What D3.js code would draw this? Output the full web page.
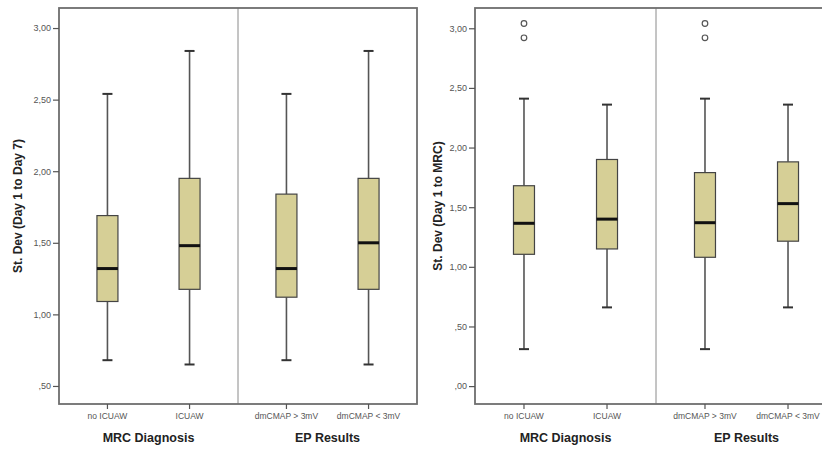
<!DOCTYPE html>
<html>
<head>
<meta charset="utf-8">
<script src="https://cdn.jsdelivr.net/npm/d3@7"></script>
<style>
  body { margin: 0; background: #fff; }
  svg { display: block; font-family: "Liberation Sans", Arial, sans-serif; }
  .tick text { fill: #555; }
</style>
</head>
<body>
<svg id="chart" width="822" height="450"></svg>
<script>
"use strict";

// categories and groups
var categories = ['no ICUAW', 'ICUAW', 'dmCMAP > 3mV', 'dmCMAP < 3mV'];
var groupNames = ['MRC Diagnosis', 'EP Results'];

// left panel: St. Dev (Day 1 to Day 7)
var day7Low = [0.68, 0.65, 0.68, 0.65];
var day7Q1 = [1.09, 1.175, 1.12, 1.175];
var day7Median = [1.32, 1.48, 1.32, 1.50];
var day7Q3 = [1.69, 1.95, 1.84, 1.95];
var day7High = [2.54, 2.84, 2.54, 2.84];
var day7Ticks = [0.5, 1, 1.5, 2, 2.5, 3];

// right panel: St. Dev (Day 1 to MRC)
var mrcLow = [0.31, 0.66, 0.31, 0.66];
var mrcQ1 = [1.105, 1.15, 1.08, 1.215];
var mrcMedian = [1.365, 1.40, 1.37, 1.53];
var mrcQ3 = [1.68, 1.90, 1.79, 1.88];
var mrcHigh = [2.41, 2.36, 2.41, 2.36];
var mrcOutliers = [[3.04, 2.92], [], [3.04, 2.92], []];
var mrcTicks = [0, 0.5, 1, 1.5, 2, 2.5, 3];

var svg = d3.select('#chart');

// spss style: 1,50 / ,50 / ,00
function fmt(v) {
  var s = d3.format('.2f')(v).replace('.', ',');
  return s.charAt(0) === '0' ? s.slice(1) : s;
}

function drawPanel(opt) {
  var top = 8, bottom = 404;
  var y = d3.scaleLinear().domain(opt.domain).range([bottom, top]);
  var groupW = (opt.x1 - opt.x0) / 2;
  var g = svg.append('g');

  // x positions: point scale inside each group
  var xs = categories.map(function (c, i) {
    var gi = Math.floor(i / 2);
    var pt = d3.scalePoint()
      .domain(categories.slice(gi * 2, gi * 2 + 2))
      .range([opt.x0 + gi * groupW, opt.x0 + (gi + 1) * groupW])
      .padding(0.59);
    return pt(c);
  });

  // divider between groups
  g.append('line')
    .attr('x1', opt.x0 + groupW).attr('x2', opt.x0 + groupW)
    .attr('y1', top).attr('y2', bottom)
    .attr('stroke', '#8a8a8a').attr('stroke-width', 1);

  var boxW = 21, capW = 10;

  categories.forEach(function (c, i) {
    var cx = xs[i];
    var b = g.append('g');
    // whiskers
    b.append('line')
      .attr('x1', cx).attr('x2', cx)
      .attr('y1', y(opt.high[i])).attr('y2', y(opt.q3[i]))
      .attr('stroke', '#555').attr('stroke-width', 1.6);
    b.append('line')
      .attr('x1', cx).attr('x2', cx)
      .attr('y1', y(opt.q1[i])).attr('y2', y(opt.low[i]))
      .attr('stroke', '#555').attr('stroke-width', 1.6);
    // caps
    [opt.high[i], opt.low[i]].forEach(function (v) {
      b.append('line')
        .attr('x1', cx - capW / 2).attr('x2', cx + capW / 2)
        .attr('y1', y(v)).attr('y2', y(v))
        .attr('stroke', '#333').attr('stroke-width', 2);
    });
    // box
    b.append('rect')
      .attr('x', cx - boxW / 2).attr('width', boxW)
      .attr('y', y(opt.q3[i])).attr('height', y(opt.q1[i]) - y(opt.q3[i]))
      .attr('fill', '#d6cf96').attr('stroke', '#444').attr('stroke-width', 1.2);
    // median
    b.append('line')
      .attr('x1', cx - boxW / 2).attr('x2', cx + boxW / 2)
      .attr('y1', y(opt.median[i])).attr('y2', y(opt.median[i]))
      .attr('stroke', '#111').attr('stroke-width', 3);
    // outliers
    (opt.outliers ? opt.outliers[i] : []).forEach(function (v) {
      b.append('circle')
        .attr('cx', cx).attr('cy', y(v)).attr('r', 2.8)
        .attr('fill', 'none').attr('stroke', '#555').attr('stroke-width', 1.2);
    });
  });

  // frame
  g.append('rect')
    .attr('x', opt.x0).attr('y', top)
    .attr('width', opt.x1 - opt.x0).attr('height', bottom - top)
    .attr('fill', 'none').attr('stroke', '#6e6e6e').attr('stroke-width', 1.8);

  // y axis
  var ya = g.append('g')
    .attr('transform', 'translate(' + opt.x0 + ',0)')
    .call(d3.axisLeft(y).tickValues(opt.ticks).tickFormat(fmt).tickSize(6).tickPadding(2));
  ya.select('.domain').remove();
  ya.selectAll('line').attr('stroke', '#555').attr('stroke-width', 1.2);
  ya.selectAll('text').attr('font-size', 9);

  // x axis ticks + labels
  var xa = g.append('g').attr('transform', 'translate(0,' + bottom + ')');
  categories.forEach(function (c, i) {
    xa.append('line')
      .attr('x1', xs[i]).attr('x2', xs[i]).attr('y1', 0).attr('y2', 5)
      .attr('stroke', '#555').attr('stroke-width', 1.2);
    xa.append('text')
      .attr('x', xs[i]).attr('y', 15)
      .attr('text-anchor', 'middle').attr('font-size', 8.5).attr('fill', '#555')
      .text(c);
  });

  // group titles
  groupNames.forEach(function (n, gi) {
    g.append('text')
      .attr('x', opt.x0 + groupW * (gi + 0.5)).attr('y', 442)
      .attr('text-anchor', 'middle').attr('font-size', 12.5).attr('font-weight', 'bold')
      .attr('fill', '#222')
      .text(n);
  });

  // y title
  g.append('text')
    .attr('transform', 'translate(' + opt.titleX + ',' + (top + bottom) / 2 + ') rotate(-90)')
    .attr('text-anchor', 'middle').attr('font-size', 12).attr('font-weight', 'bold')
    .attr('fill', '#222')
    .text(opt.title);
}

drawPanel({
  x0: 59, x1: 417, domain: [0.374, 3.14],
  low: day7Low, q1: day7Q1, median: day7Median, q3: day7Q3, high: day7High,
  ticks: day7Ticks, title: 'St. Dev (Day 1 to Day 7)', titleX: 22
});

drawPanel({
  x0: 475, x1: 837, domain: [-0.15, 3.17],
  low: mrcLow, q1: mrcQ1, median: mrcMedian, q3: mrcQ3, high: mrcHigh,
  outliers: mrcOutliers,
  ticks: mrcTicks, title: 'St. Dev (Day 1 to MRC)', titleX: 442
});
</script>
</body>
</html>
